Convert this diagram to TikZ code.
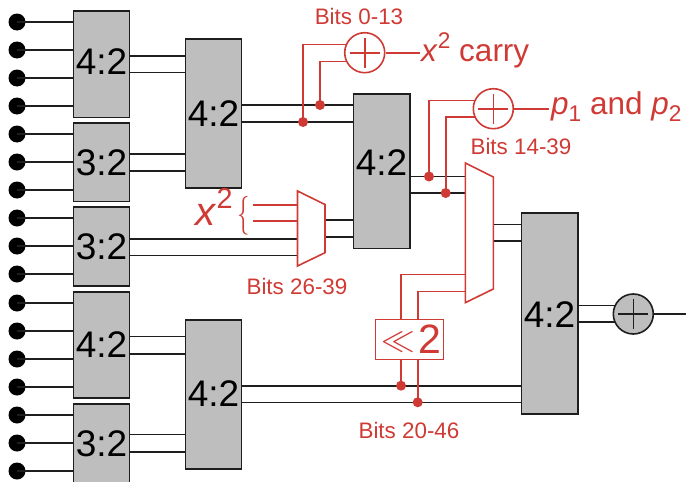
\documentclass[tikz,border=0pt]{standalone}
\usepackage{fontspec}
\setmainfont{Liberation Sans}
\usepackage{graphicx}
\newcommand{\fsz}[1]{\fontsize{#1}{#1}\selectfont}
\newcommand{\sups}[1]{\raisebox{.42em}{\scalebox{.72}{#1}}}
\newcommand{\subs}[1]{\raisebox{-.22em}{\scalebox{.72}{#1}}}
\newcommand{\shifttext}[2]{\raisebox{#1}[\height][\depth]{#2}}
\definecolor{rd}{HTML}{D03A35}
\definecolor{gr}{HTML}{BEBEBE}
\definecolor{ink}{HTML}{1E1E1E}
\tikzset{
  wire/.style={draw=ink,line width=1.6pt},
  rwire/.style={draw=rd,line width=1.6pt},
  inpin/.style={circle,fill=black,minimum size=17pt,inner sep=0pt},
  tap/.style={circle,fill=rd,minimum size=10pt,inner sep=0pt},
  csa/.style={draw=ink,fill=gr,line width=1.6pt,inner sep=0pt,font=\fsz{37}},
  addr/.style={circle,draw=rd,fill=white,line width=1.6pt,minimum size=40pt,inner sep=0pt},
  addk/.style={circle,draw=ink,fill=gr,line width=1.6pt,minimum size=40pt,inner sep=0pt},
  bits/.style={text=rd,font=\fsz{22.4},inner sep=0pt},
  big/.style={text=rd,font=\fsz{31.5},inner sep=0pt},
}
\begin{document}
\begin{tikzpicture}[x=1pt,y=-1pt]
\useasboundingbox (0,0) rectangle (686,482);
\clip (0,0) rectangle (686,482);
% wires first
\foreach \n/\yy in {1/22,2/50,3/78,4/106,5/134,6/162,7/190,8/218,9/246,10/274,11/303,12/331,13/359,14/387,15/415,16/443,17/471}{
  \node[inpin] (d\n) at (17,\yy) {};
  \draw[wire] (d\n.center) -- (73.5,\yy);
}
% column 1
\node[csa,minimum width=56pt,minimum height=106.5pt] (A1) at (101.5,64.2) {\shifttext{2.7pt}{4:2}};
\node[csa,minimum width=56pt,minimum height=78.5pt] (A2) at (101.5,162.3) {3:2};
\node[csa,minimum width=56pt,minimum height=78.5pt] (A3) at (101.5,246.5) {3:2};
\node[csa,minimum width=56pt,minimum height=106.5pt] (A4) at (101.5,345) {4:2};
\node[csa,minimum width=56pt,minimum height=78.5pt] (A5) at (101.5,443.3) {3:2};
% column 2
\node[csa,minimum width=56pt,minimum height=149pt] (B1) at (213.5,113.5) {4:2};
\node[csa,minimum width=56pt,minimum height=149pt] (B2) at (213.5,394.2) {\shifttext{1pt}{4:2}};
% column 3, 4
\node[csa,minimum width=56.4pt,minimum height=154.3pt] (C) at (381.5,171.2) {\shifttext{8.7pt}{4:2}};
\node[csa,minimum width=56.4pt,minimum height=201pt] (D) at (549.5,313.5) {\shifttext{-1.5pt}{4:2}};
% column 1 to 2
\foreach \s/\t/\ya/\yb in {A1/B1/56/72.5,A2/B1/154/171,A4/B2/336.3/353.7,A5/B2/434.3/451.7}{
  \draw[wire] (\s.east |- 0,\ya) -- (\t.west |- 0,\ya);
  \draw[wire] (\s.east |- 0,\yb) -- (\t.west |- 0,\yb);
}
% B1 to C, B2 to D
\draw[wire] (B1.east |- 0,105) -- (C.west |- 0,105);
\draw[wire] (B1.east |- 0,122) -- (C.west |- 0,122);
\draw[wire] (B2.east |- 0,385.7) -- (D.west |- 0,385.7);
\draw[wire] (B2.east |- 0,402.3) -- (D.west |- 0,402.3);
% mux 1
\coordinate (M1a) at (297.5,191);
\coordinate (M1b) at (325,204.5);
\coordinate (M1c) at (325,252.7);
\coordinate (M1d) at (297.5,266);
\coordinate (M2a) at (465.3,163);
\coordinate (M2b) at (493.3,177);
\coordinate (M2c) at (493.3,289);
\coordinate (M2d) at (465.3,302.7);
\draw[wire] (A3.east |- 0,239) -- (M1a |- 0,239);
\draw[wire] (A3.east |- 0,255.3) -- (M1a |- 0,255.3);
\draw[wire] (M1b |- 0,220) -- (C.west |- 0,220);
\draw[wire] (M1b |- 0,237) -- (C.west |- 0,237);
\draw[wire] (C.east |- 0,176.5) -- (M2a |- 0,176.5);
\draw[wire] (C.east |- 0,193) -- (M2a |- 0,193);
\draw[wire] (M2b |- 0,224.5) -- (D.west |- 0,224.5);
\draw[wire] (M2b |- 0,241) -- (D.west |- 0,241);
\draw[rwire,fill=white] (M1a) -- (M1b) -- (M1c) -- (M1d) -- cycle;
\draw[rwire,fill=white] (M2a) -- (M2b) -- (M2c) -- (M2d) -- cycle;
% x^2 inputs
\coordinate (Xa) at (253,205);
\coordinate (Xb) at (253,221);
\draw[rwire] (Xa) -- (M1a |- Xa);
\draw[rwire] (Xb) -- (M1a |- Xb);
\node[text=rd,font=\fsz{40},inner sep=0pt,anchor=base] (XL) at (214,225) {\textit{x}\sups{2}};
\node[text=rd,font=\fsz{24.88},inner sep=0pt] (Br) at (243.5,216) {\scalebox{1}[1.56]{$\{$}};
% top adder
\node[tap] (t1) at (303,122) {};
\node[tap] (t2) at (320,105) {};
\node[addr] (S1) at (364.7,52.7) {};
\draw[rwire] (t1.center) |- (346.5,44.5);
\draw[rwire] (t2.center) |- (346.5,61.5);
\draw[rd,line width=1.6pt] (S1.center)+(-15,0) -- +(15,0) (S1.center)+(0,-15) -- +(0,15);
\coordinate (O1) at (420,52.7);
\draw[rwire] (S1) -- (O1);
\node[big,anchor=base west] (L1) at (421,61.5) {\textit{x}\sups{2} carry};
% second adder
\node[tap] (t3) at (429,176.5) {};
\node[tap] (t4) at (445.7,193) {};
\node[addr] (S2) at (493.3,108.7) {};
\draw[rwire] (t3.center) |- (475,100.5);
\draw[rwire] (t4.center) |- (475,117);
\draw[rd,line width=1.6pt] (S2.center)+(-15,0) -- +(15,0) (S2.center)+(0,-15) -- +(0,15);
\coordinate (O2) at (549,108.7);
\draw[rwire] (S2) -- (O2);
\node[big,anchor=base west] (L2) at (551,114.5) {\textit{p}\subs{1} and \textit{p}\subs{2}};
% shift
\node[draw=rd,fill=white,line width=1.6pt,minimum width=68pt,minimum height=40pt,inner sep=0pt] (Sh) at (409.3,339.3) {};
\node[text=rd,font=\fsz{24.88},inner sep=0pt] (ShL) at (398.5,342.5) {\scalebox{1.35}{$\ll$}};
\node[text=rd,font=\fsz{41},inner sep=0pt] (ShT) at (430,339) {2};
\node[tap] (t5) at (401,385.7) {};
\node[tap] (t6) at (417.7,402.3) {};
\draw[rwire] (t5.center) -- (t5.center |- Sh.south);
\draw[rwire] (t6.center) -- (t6.center |- Sh.south);
\draw[rwire] (t5.center |- Sh.north) |- (M2a |- 0,274.3);
\draw[rwire] (t6.center |- Sh.north) |- (M2a |- 0,291.3);
% final adder
\node[addk] (S3) at (633.3,314) {};
\draw[ink,line width=1.6pt] (S3.center)+(-15,0) -- +(15,0) (S3.center)+(0,-15) -- +(0,15);
\draw[wire] (D.east |- 0,305.3) -- (615,305.3);
\draw[wire] (D.east |- 0,322) -- (615,322);
\coordinate (O3) at (686,314);
\draw[wire] (S3) -- (O3);
% labels
\node[bits] (b1) at (359,16.5) {Bits 0-13};
\node[bits] (b2) at (521,146) {Bits 14-39};
\node[bits] (b3) at (297,286) {Bits 26-39};
\node[bits] (b4) at (409,430) {Bits 20-46};
\end{tikzpicture}
\end{document}
